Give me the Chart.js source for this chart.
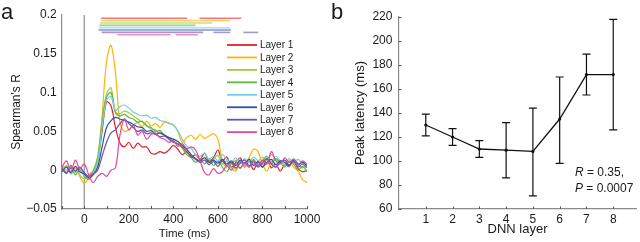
<!DOCTYPE html>
<html>
<head>
<meta charset="utf-8">
<script src="https://cdn.jsdelivr.net/npm/chart.js@4.4.1/dist/chart.umd.min.js"></script>
<style>
  html, body { margin: 0; padding: 0; background: #fff; }
  body { width: 640px; height: 242px; position: relative; overflow: hidden; }
  .panel { position: absolute; top: 0; height: 242px; }
  #boxA { left: 0; width: 330px; }
  #boxB { left: 330px; width: 310px; }
</style>
</head>
<body>
<div class="panel" id="boxA"><canvas id="chartA" width="330" height="242"></canvas></div>
<div class="panel" id="boxB"><canvas id="chartB" width="310" height="242"></canvas></div>
<script>
/* ---------------------------------- data ---------------------------------- */

let times = [-100, -80, -60, -40, -20, 0, 20, 40, 60, 80, 100, 120, 140, 160, 180, 200, 220, 240, 260, 280,
    300, 320, 340, 360, 380, 400, 420, 440, 460, 480, 500, 520, 540, 560, 580, 600, 620, 640, 660, 680,
    700, 720, 740, 760, 780, 800, 820, 840, 860, 880, 900, 920, 940, 960, 980, 1000]

let layerNames = ['Layer 1', 'Layer 2', 'Layer 3', 'Layer 4', 'Layer 5', 'Layer 6', 'Layer 7', 'Layer 8']
let layerColors = ['#e8202a', '#ffb400', '#9ccc3c', '#5cb83a', '#6fcfe2', '#2e4fa8', '#6a52b4', '#e0489a']

let layer1 = [0.004, -0.003, 0.006, -0.002, 0.003, -0.006, -0.008, -0.002, 0.012, 0.05, 0.088, 0.083, 0.055, 0.035,
    0.03, 0.036, 0.028, 0.035, 0.03, 0.03, 0.022, 0.021, 0.024, 0.022, 0.026, 0.032, 0.027, 0.02, 0.024, 0.017,
    0.02, 0.014, 0.022, 0.012, 0.016, 0.026, 0.012, 0.017, 0.004, 0.01, 0.016, 0.004, 0.011, 0.001, 0.01, 0.004,
    0.014, 0.003, 0.008, -0.001, 0.007, 0.005, 0.012, 0.002, -0.002, 0.0]
let layer2 = [0.002, 0.006, -0.004, 0.003, -0.008, -0.017, -0.01, -0.005, 0.006, 0.07, 0.14, 0.161, 0.125, 0.062,
    0.05, 0.052, 0.058, 0.061, 0.056, 0.063, 0.057, 0.06, 0.055, 0.062, 0.06, 0.059, 0.05, 0.036, 0.042, 0.045,
    0.04, 0.046, 0.041, 0.044, 0.047, 0.04, 0.012, 0.004, 0.01, 0.001, 0.012, 0.004, 0.016, 0.027, 0.024, 0.008,
    -0.001, 0.01, 0.003, 0.012, 0.006, 0.011, 0.004, -0.001, -0.012, -0.016]
let layer3 = [0.0, 0.005, -0.005, 0.002, -0.006, -0.011, -0.006, 0.0, 0.018, 0.065, 0.098, 0.106, 0.075, 0.073,
    0.076, 0.074, 0.07, 0.066, 0.062, 0.058, 0.053, 0.052, 0.047, 0.046, 0.041, 0.038, 0.033, 0.03, 0.022, 0.02,
    0.014, 0.012, 0.017, 0.009, 0.014, 0.019, 0.008, 0.012, 0.003, -0.001, 0.01, 0.006, 0.015, 0.008, 0.011, 0.017,
    0.012, 0.02, 0.014, 0.009, 0.013, 0.006, 0.015, 0.008, 0.003, 0.006]
let layer4 = [0.003, -0.004, 0.004, -0.006, 0.001, -0.008, -0.012, -0.003, 0.015, 0.06, 0.094, 0.1, 0.074, 0.07,
    0.072, 0.068, 0.066, 0.062, 0.063, 0.057, 0.055, 0.05, 0.051, 0.045, 0.042, 0.037, 0.034, 0.028, 0.02, 0.016,
    0.01, 0.014, 0.008, 0.015, 0.006, 0.012, 0.004, -0.002, 0.008, 0.012, 0.002, 0.01, 0.004, 0.014, 0.006, 0.012,
    0.018, 0.008, 0.015, 0.01, 0.004, 0.012, 0.008, 0.0, 0.005, -0.002]
let layer5 = [0.006, 0.0, 0.004, -0.003, 0.002, -0.007, -0.009, -0.004, 0.012, 0.055, 0.09, 0.095, 0.077, 0.082,
    0.084, 0.08, 0.075, 0.072, 0.07, 0.071, 0.067, 0.068, 0.064, 0.063, 0.061, 0.058, 0.051, 0.04, 0.031, 0.028,
    0.02, 0.018, 0.022, 0.014, 0.018, 0.012, 0.02, 0.014, 0.01, 0.016, 0.008, 0.015, 0.01, 0.017, 0.012, 0.008,
    0.016, 0.011, 0.018, 0.012, 0.008, 0.015, 0.01, 0.014, 0.008, 0.004]
let layer6 = [-0.002, 0.004, -0.003, 0.005, -0.002, -0.005, -0.01, -0.006, 0.004, 0.03, 0.055, 0.064, 0.068, 0.066,
    0.064, 0.062, 0.059, 0.056, 0.055, 0.05, 0.051, 0.047, 0.048, 0.045, 0.042, 0.04, 0.037, 0.032, 0.027, 0.02,
    0.015, 0.012, 0.016, 0.01, 0.013, 0.009, 0.014, 0.008, 0.012, 0.006, 0.013, 0.008, 0.014, 0.006, 0.011, 0.004,
    0.01, 0.014, 0.007, 0.012, 0.01, 0.006, 0.013, 0.008, 0.01, 0.006]
let layer7 = [0.002, -0.004, 0.003, -0.001, 0.004, -0.003, -0.008, -0.005, 0.0, 0.018, 0.036, 0.048, 0.052, 0.06,
    0.066, 0.06, 0.055, 0.05, 0.052, 0.047, 0.048, 0.046, 0.043, 0.044, 0.04, 0.036, 0.034, 0.03, 0.024, 0.018,
    0.014, 0.01, 0.013, 0.007, 0.011, 0.005, 0.012, 0.006, 0.01, 0.003, 0.009, 0.013, 0.006, 0.011, 0.004, 0.009,
    0.015, 0.008, 0.004, 0.01, 0.013, 0.007, 0.011, 0.004, 0.008, 0.003]
let layer8 = [0.004, 0.012, -0.002, 0.013, 0.002, 0.008, -0.006, -0.016, -0.008, -0.004, -0.008, 0.0, 0.003, 0.045,
    0.066, 0.052, 0.058, 0.045, 0.05, 0.04, 0.046, 0.048, 0.042, 0.04, 0.036, 0.038, 0.031, 0.034, 0.028, 0.03,
    0.026, 0.012, -0.003, -0.006, 0.002, -0.004, -0.002, 0.006, 0.0, 0.008, 0.003, 0.01, 0.004, 0.012, 0.006, 0.013,
    0.008, 0.024, 0.012, 0.008, 0.016, 0.01, 0.014, 0.006, 0.012, 0.008]

// significant time windows (ms) for each layer, drawn as bars above the curves
let sigWindows = [
    [[75, 462], [517, 705]],
    [[75, 655]],
    [[70, 574]],
    [[68, 500]],
    [[66, 655]],
    [[64, 659]],
    [[78, 534], [580, 655], [714, 781]],
    [[149, 387], [410, 510]]
]

let yTicksA = [-0.05, 0, 0.05, 0.1, 0.15, 0.2]

let dnnLayers = [1, 2, 3, 4, 5, 6, 7, 8]
let peakLatency = [130, 120, 110, 109, 108, 135, 172, 172]
let latencyLow = [121, 113, 103, 86, 71, 98, 155, 126]
let latencyHigh = [139, 127, 117, 132, 144, 170, 189, 218]
let yTicksB = [60, 80, 100, 120, 140, 160, 180, 200, 220]

/* --------------------------------- styling -------------------------------- */

let fontFamily = '"Liberation Sans", Arial, Helvetica, sans-serif'
Chart.defaults.font.family = fontFamily
Chart.defaults.color = '#1a1a1a'
let axisGray = '#8a8a8a'

function inwardTicks(chart, xLen, yLen) {
    let ctx = chart.ctx
    let area = chart.chartArea
    ctx.save()
    ctx.strokeStyle = '#555'
    ctx.lineWidth = 1
    chart.scales.x.ticks.forEach(t => {
        let px = Math.round(chart.scales.x.getPixelForValue(t.value)) + 0.5
        ctx.beginPath()
        ctx.moveTo(px, area.bottom)
        ctx.lineTo(px, area.bottom - xLen)
        ctx.stroke()
    })
    chart.scales.y.ticks.forEach(t => {
        let py = Math.round(chart.scales.y.getPixelForValue(t.value)) + 0.5
        ctx.beginPath()
        ctx.moveTo(area.left, py)
        ctx.lineTo(area.left + yLen, py)
        ctx.stroke()
    })
    ctx.restore()
}

/* --------------------------------- panel a -------------------------------- */

let layerData = [layer1, layer2, layer3, layer4, layer5, layer6, layer7, layer8]

let panelA = {
    id: 'panelA',
    beforeDatasetsDraw(chart) {
        let ctx = chart.ctx
        let area = chart.chartArea
        let x0 = chart.scales.x.getPixelForValue(0)
        ctx.save()
        ctx.strokeStyle = '#9a9a9a'
        ctx.lineWidth = 1.3
        ctx.beginPath()
        ctx.moveTo(x0, area.bottom)
        ctx.lineTo(x0, area.top)
        ctx.stroke()
        ctx.restore()
    },
    afterDraw(chart) {
        let ctx = chart.ctx
        let area = chart.chartArea
        let xs = chart.scales.x
        inwardTicks(chart, 3, 0)

        // significance bars
        ctx.save()
        ctx.globalAlpha = 0.6
        ctx.lineWidth = 1.6
        sigWindows.forEach((wins, i) => {
            let y = area.top + 3.3 + i * 2.35
            ctx.strokeStyle = layerColors[i]
            wins.forEach(w => {
                ctx.beginPath()
                ctx.moveTo(xs.getPixelForValue(w[0]), y)
                ctx.lineTo(xs.getPixelForValue(w[1]), y)
                ctx.stroke()
            })
        })
        ctx.restore()

        // legend
        ctx.save()
        ctx.font = '10px ' + fontFamily
        ctx.textBaseline = 'middle'
        ctx.fillStyle = '#1a1a1a'
        layerNames.forEach((name, i) => {
            let y = 45 + i * 12.45
            ctx.strokeStyle = layerColors[i]
            ctx.lineWidth = 1.8
            ctx.beginPath()
            ctx.moveTo(227, y)
            ctx.lineTo(257, y)
            ctx.stroke()
            ctx.fillText(name, 260, y + 0.5)
        })

        // panel letter
        ctx.font = '22px ' + fontFamily
        ctx.textBaseline = 'alphabetic'
        ctx.fillText('a', 1, 18.5)
        ctx.restore()
    }
}

new Chart(document.querySelector('#chartA'), {
    type: 'line',
    data: {
        datasets: layerData.map((vals, i) => ({
            label: layerNames[i],
            data: times.map((t, j) => ({ x: t, y: vals[j] })),
            borderColor: layerColors[i],
            borderWidth: 1.2,
            pointRadius: 0,
            tension: 0.35,
            fill: false
        })).reverse()
    },
    options: {
        responsive: false,
        animation: false,
        layout: { padding: { top: 15, right: 23, left: 0, bottom: 0 } },
        plugins: { legend: { display: false }, tooltip: { enabled: false } },
        scales: {
            x: {
                type: 'linear',
                min: -100,
                max: 1000,
                afterFit: s => { s.height = 33 },
                afterBuildTicks: s => {
                    let list = []
                    for (let v = -100; v <= 1000; v += 100) list.push({ value: v })
                    s.ticks = list
                },
                ticks: {
                    padding: 3.3,
                    maxRotation: 0,
                    autoSkip: false,
                    font: { size: 12 },
                    callback: v => (v % 200 === 0 ? String(v) : '')
                },
                grid: { display: true, drawOnChartArea: false, drawTicks: false },
                border: { display: true, color: axisGray, width: 1.2 },
                title: { display: true, text: 'Time (ms)', font: { size: 11.5 }, padding: { top: 0, bottom: 1.5 } }
            },
            y: {
                min: -0.05,
                max: 0.2,
                afterFit: s => { s.width = 62 },
                afterBuildTicks: s => { s.ticks = yTicksA.map(v => ({ value: v })) },
                ticks: {
                    padding: 5.3,
                    font: { size: 12 },
                    callback: v => {
                        let r = Math.round(v * 100) / 100
                        return r < 0 ? '\u2212' + String(-r) : String(r)
                    }
                },
                grid: { display: true, drawOnChartArea: false, drawTicks: false },
                border: { display: true, color: axisGray, width: 1.2 },
                title: { display: true, text: "Spearman's R", font: { size: 12 }, padding: { top: 9, bottom: 0 } }
            }
        }
    },
    plugins: [panelA]
})

/* --------------------------------- panel b -------------------------------- */

let panelB = {
    id: 'panelB',
    afterDatasetsDraw(chart) {
        let ctx = chart.ctx
        let xs = chart.scales.x
        let ys = chart.scales.y
        ctx.save()
        ctx.strokeStyle = '#111'
        ctx.lineWidth = 1.2
        dnnLayers.forEach((l, i) => {
            let px = xs.getPixelForValue(l)
            let lo = ys.getPixelForValue(latencyLow[i])
            let hi = ys.getPixelForValue(latencyHigh[i])
            ctx.beginPath()
            ctx.moveTo(px, lo)
            ctx.lineTo(px, hi)
            ctx.moveTo(px - 4, lo)
            ctx.lineTo(px + 4, lo)
            ctx.moveTo(px - 4, hi)
            ctx.lineTo(px + 4, hi)
            ctx.stroke()
        })
        ctx.restore()
    },
    afterDraw(chart) {
        let ctx = chart.ctx
        inwardTicks(chart, 2.5, 2.5)
        ctx.save()
        ctx.fillStyle = '#1a1a1a'
        ctx.textBaseline = 'middle'
        ctx.font = 'italic 12px ' + fontFamily
        ctx.fillText('R', 245, 172.5)
        let wR = ctx.measureText('R').width
        ctx.fillText('P', 245, 188.5)
        let wP = ctx.measureText('P').width
        ctx.font = '12px ' + fontFamily
        ctx.fillText(' = 0.35,', 245 + wR, 172.5)
        ctx.fillText(' = 0.0007', 245 + wP, 188.5)

        ctx.font = '22px ' + fontFamily
        ctx.textBaseline = 'alphabetic'
        ctx.fillText('b', 1, 18.5)
        ctx.restore()
    }
}

new Chart(document.querySelector('#chartB'), {
    type: 'line',
    data: {
        datasets: [{
            label: 'Peak latency',
            data: dnnLayers.map((l, i) => ({ x: l, y: peakLatency[i] })),
            borderColor: '#111',
            backgroundColor: '#111',
            borderWidth: 1.3,
            pointRadius: 1.6,
            pointBorderWidth: 0,
            tension: 0,
            fill: false
        }]
    },
    options: {
        responsive: false,
        animation: false,
        layout: { padding: { top: 17, right: 0, left: 0, bottom: 0 } },
        plugins: { legend: { display: false }, tooltip: { enabled: false } },
        scales: {
            x: {
                type: 'linear',
                min: 0,
                max: 8.85,
                afterFit: s => { s.height = 33 },
                afterBuildTicks: s => { s.ticks = dnnLayers.map(v => ({ value: v })) },
                ticks: { padding: 3.8, maxRotation: 0, autoSkip: false, font: { size: 12 } },
                grid: { display: true, drawOnChartArea: false, drawTicks: false },
                border: { display: true, color: axisGray, width: 1.2 },
                title: { display: true, text: 'DNN layer', font: { size: 13 }, padding: { top: 0, bottom: 4.7 } }
            },
            y: {
                min: 60,
                max: 220,
                afterFit: s => { s.width = 69 },
                afterBuildTicks: s => { s.ticks = yTicksB.map(v => ({ value: v })) },
                ticks: { padding: 6.6, font: { size: 12 } },
                grid: { display: true, drawOnChartArea: false, drawTicks: false },
                border: { display: true, color: axisGray, width: 1.2 },
                title: { display: true, text: 'Peak latency (ms)', font: { size: 13 }, padding: { top: 23, bottom: 0 } }
            }
        }
    },
    plugins: [panelB]
})
</script>
</body>
</html>
